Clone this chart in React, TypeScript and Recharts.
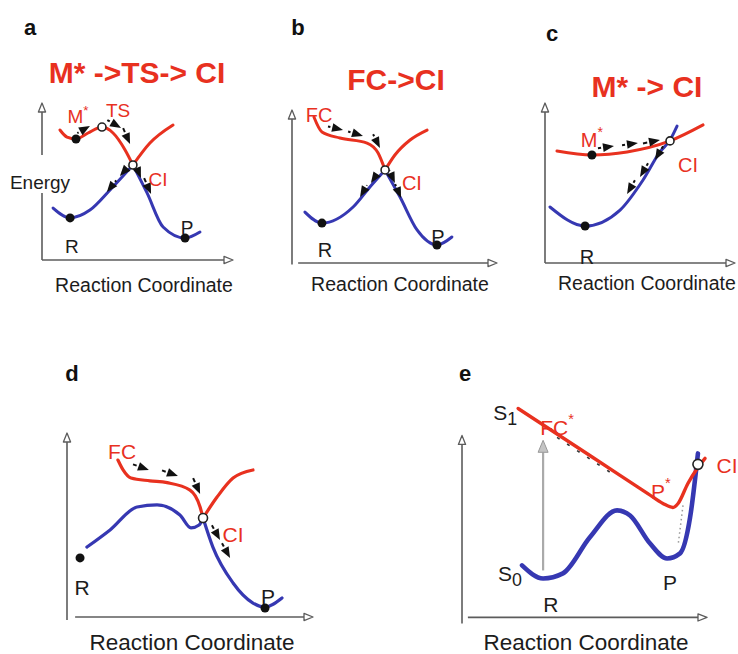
import React from "react";
import { LineChart, Line, XAxis, YAxis, ReferenceLine, ReferenceDot } from "recharts";

// units: reaction coordinate 0..10 along each x axis, energy 0..10 along each y axis
type Pt = [number, number];
type Seg = [number, number, number, number];
type Lbl = { x: number; y: number; text: string; sup?: string; sub?: string };

// ---- panel a : M* -> TS -> CI
const aRed: Pt[][] = [
  [[0.94, 8.28], [1.31, 7.83], [1.78, 7.71], [2.41, 8.09], [3.14, 8.47], [3.72, 8.09], [4.35, 7.01], [4.76, 6.05]],
  [[4.76, 6.05], [5.65, 7.45], [6.86, 8.6]],
];
const aBlue: Pt[][] = [
  [[0.58, 3.31], [1.47, 2.68], [2.51, 3.18], [3.56, 4.46], [4.24, 5.35], [4.76, 6.05]],
  [[4.76, 6.05], [5.5, 4.27], [6.34, 2.1], [7.49, 1.4], [8.27, 1.78]],
];
const aDots: Pt[] = [[1.78, 7.71], [1.47, 2.68], [7.49, 1.4]];
const aOpen: Pt[] = [[3.14, 8.47], [4.76, 6.05]];
const aRedLabels: Lbl[] = [
  { x: 1.88, y: 9.11, text: "M", sup: "*" },
  { x: 3.98, y: 9.55, text: "TS" },
  { x: 6.07, y: 5.1, text: "CI" },
];
const aInkLabels: Lbl[] = [{ x: 1.57, y: 0.83, text: "R" }, { x: 7.59, y: 2.04, text: "P" }];
const aArrows: Seg[] = [
  [1.94, 8.15, 2.51, 8.54], [3.51, 8.85, 4.14, 8.41], [4.29, 8.28, 4.61, 7.39],
  [4.45, 5.86, 4.08, 5.35], [3.82, 4.97, 3.4, 4.33], [4.92, 5.99, 5.18, 5.22], [5.39, 5.1, 5.71, 4.2],
];
const aAxisPlain: Seg[] = [[0, 0, 0, 4.27]];
const aAxisArrow: Seg[] = [[0, 0, 10, 0], [0, 6.69, 0, 10]];

// ---- panel b : FC -> CI
const bRed: Pt[][] = [
  [[1.07, 9.54], [1.46, 8.56], [2.34, 8.17], [3.66, 7.84], [4.2, 7.19], [4.54, 6.08]],
  [[4.54, 6.08], [5.02, 7.06], [5.76, 8.04], [6.59, 8.69]],
];
const bBlue: Pt[][] = [
  [[0.63, 3.33], [1.46, 2.61], [2.98, 3.66], [3.8, 4.97], [4.54, 6.08]],
  [[4.54, 6.08], [5.27, 4.31], [6.1, 2.16], [7.07, 1.18], [7.8, 1.7]],
];
const bDots: Pt[] = [[1.46, 2.61], [7.07, 1.18]];
const bOpen: Pt[] = [[4.54, 6.08]];
const bRedLabels: Lbl[] = [{ x: 1.32, y: 9.67, text: "FC" }, { x: 5.85, y: 5.23, text: "CI" }];
const bInkLabels: Lbl[] = [{ x: 1.61, y: 0.85, text: "R" }, { x: 7.12, y: 1.7, text: "P" }];
const bArrows: Seg[] = [
  [1.85, 8.89, 2.49, 8.69], [2.83, 8.56, 3.46, 8.3], [4.0, 8.3, 4.29, 7.52],
  [4.15, 5.82, 3.85, 5.23], [3.61, 4.97, 3.32, 4.31], [4.78, 5.95, 5.02, 5.23], [5.07, 5.03, 5.32, 4.25],
];
const bAxisPlain: Seg[] = [];
const bAxisArrow: Seg[] = [[0.3, 0, 10, 0], [0, -0.1, 0, 10]];

// ---- panel c : M* -> CI
const cRed: Pt[][] = [[[0.63, 7.0], [2.47, 6.75], [4.32, 6.94], [6.58, 7.63], [8.32, 8.63]]];
const cBlue: Pt[][] = [[[0.26, 3.5], [2.11, 2.31], [3.95, 3.31], [5.16, 5.19], [6.05, 6.94], [6.58, 7.69], [6.95, 8.56]]];
const cDots: Pt[] = [[2.47, 6.75], [2.11, 2.31]];
const cOpen: Pt[] = [[6.58, 7.63]];
const cRedLabels: Lbl[] = [{ x: 2.47, y: 7.69, text: "M", sup: "*" }, { x: 7.53, y: 6.13, text: "CI" }];
const cInkLabels: Lbl[] = [{ x: 2.21, y: 0.38, text: "R" }];
const cArrows: Seg[] = [
  [2.89, 7.19, 3.63, 7.31], [4.16, 7.38, 4.89, 7.5], [5.26, 7.5, 6.05, 7.69],
  [6.16, 7.19, 5.79, 6.44], [5.37, 6.13, 5.0, 5.38], [4.68, 5.06, 4.32, 4.31],
];
const cAxisPlain: Seg[] = [];
const cAxisArrow: Seg[] = [[0, 0, 10, 0], [0, 0, 0, 10]];

// ---- panel d
const dRed: Pt[][] = [
  [[2.07, 8.53], [2.28, 7.99], [2.6, 7.55], [3.37, 7.4], [4.07, 7.3], [5.0, 6.9], [5.41, 5.98], [5.53, 5.38]],
  [[5.53, 5.38], [6.1, 6.52], [6.75, 7.55], [7.56, 7.99]],
];
const dBlue: Pt[][] = [
  [[0.81, 3.8], [1.75, 4.73], [2.85, 5.98], [3.66, 6.09], [4.59, 5.54], [5.04, 4.84], [5.37, 5.0], [5.53, 5.38]],
  [[5.53, 5.38], [5.93, 3.8], [6.75, 1.85], [7.56, 0.76], [8.05, 0.54], [8.74, 1.03]],
];
const dDots: Pt[] = [[0.53, 3.21], [8.05, 0.49]];
const dOpen: Pt[] = [[5.53, 5.38]];
const dRedLabels: Lbl[] = [{ x: 2.24, y: 8.97, text: "FC" }, { x: 6.75, y: 4.46, text: "CI" }];
const dInkLabels: Lbl[] = [{ x: 0.61, y: 1.63, text: "R" }, { x: 8.17, y: 1.09, text: "P" }];
const dArrows: Seg[] = [
  [2.76, 8.26, 3.33, 7.99], [3.94, 7.93, 4.51, 7.66], [5.16, 7.45, 5.41, 6.68],
  [5.93, 4.89, 6.22, 4.18], [6.34, 3.91, 6.63, 3.21],
];
const dAxisPlain: Seg[] = [];
const dAxisArrow: Seg[] = [[0.33, 0, 10, 0], [0, -0.16, 0, 10]];

// ---- panel e : S0 / S1
const eRed: Pt[][] = [[[2.29, 11.48], [5.25, 8.87], [7.6, 6.79], [8.2, 6.26], [8.61, 6.04], [8.82, 6.26], [9.22, 7.36], [9.63, 8.24], [9.92, 8.74]]];
const eBlue: Pt[][] = [[[2.45, 2.86], [3.31, 2.14], [4.12, 2.42], [5.22, 4.4], [6.33, 5.88], [6.86, 5.6], [7.67, 4.07], [8.37, 3.24], [8.9, 3.52], [9.31, 5.49], [9.63, 9.01]]];
const eDots: Pt[] = [];
const eOpen: Pt[] = [[9.63, 8.41]];
const eRedLabels: Lbl[] = [
  { x: 3.88, y: 10.44, text: "FC", sup: "*" },
  { x: 8.12, y: 6.92, text: "P", sup: "*" },
  { x: 10.82, y: 8.35, text: "CI" },
];
const eInkLabels: Lbl[] = [
  { x: 1.76, y: 11.26, text: "S", sub: "1" },
  { x: 1.96, y: 2.42, text: "S", sub: "0" },
  { x: 8.49, y: 1.92, text: "P" },
  { x: 3.63, y: 0.71, text: "R" },
];
const eArrows: Seg[] = [];
const eExcite: Seg = [3.31, 2.58, 3.31, 9.73];
const eDotted: Seg = [9.02, 6.15, 8.82, 3.96];
const eTrail: Seg = [3.88, 9.89, 6.24, 7.8];
const eAxisPlain: Seg[] = [];
const eAxisArrow: Seg[] = [[0.24, 0, 10, 0], [0, -0.33, 0, 10]];

const TITLES = ["M* ->TS-> CI", "FC->CI", "M* -> CI"];
const LETTERS = ["a", "b", "c", "d", "e"];
const X_TITLE = "Reaction Coordinate";
const Y_TITLE = "Energy";

const RED = "#e8311f";
const BLUE = "#3638b2";
const INK = "#1c1c1c";
const AXIS = "#5c5c5c";
const FONT = "'Liberation Sans', Arial, Helvetica, sans-serif";
const ML = 40, MT = 26, MR = 10, MB = 12;

const unit = (x1: number, y1: number, x2: number, y2: number) => {
  const dx = x2 - x1, dy = y2 - y1;
  const len = Math.hypot(dx, dy) || 1;
  return { ux: dx / len, uy: dy / len, len };
};

const AxisArrow = (p: any) => {
  const { x1, y1, x2, y2 } = p;
  const { ux, uy } = unit(x1, y1, x2, y2);
  const hl = 9, hw = 3.6;
  const bx = x2 - ux * hl, by = y2 - uy * hl;
  return (
    <g>
      <line x1={x1} y1={y1} x2={bx} y2={by} stroke={AXIS} strokeWidth={1.6} />
      <polygon points={`${x2},${y2} ${bx - uy * hw},${by + ux * hw} ${bx + uy * hw},${by - ux * hw}`} fill="#fff" stroke={AXIS} strokeWidth={1.3} strokeLinejoin="round" />
    </g>
  );
};

const GrayArrow = (p: any) => {
  const { x1, y1, x2, y2 } = p;
  const { ux, uy } = unit(x1, y1, x2, y2);
  const hl = 12, hw = 5;
  const bx = x2 - ux * hl, by = y2 - uy * hl;
  return (
    <g>
      <line x1={x1} y1={y1} x2={bx} y2={by} stroke="#aaa" strokeWidth={2.2} />
      <polygon points={`${x2},${y2} ${bx - uy * hw},${by + ux * hw} ${bx + uy * hw},${by - ux * hw}`} fill="#c4c4c4" stroke="#999" strokeWidth={1} />
    </g>
  );
};

const DashArrow = (p: any) => {
  const { x1, y1, x2, y2 } = p;
  const { ux, uy, len } = unit(x1, y1, x2, y2);
  const hl = 11, hw = 4.4;
  const bx = x2 - ux * hl, by = y2 - uy * hl;
  const tail = Math.min(len + 2, hl + 9);
  return (
    <g>
      <line x1={x2 - ux * tail} y1={y2 - uy * tail} x2={x2 - ux * (hl + 2)} y2={y2 - uy * (hl + 2)} stroke="#111" strokeWidth={2} />
      <polygon points={`${x2},${y2} ${bx - uy * hw},${by + ux * hw} ${bx + uy * hw},${by - ux * hw}`} fill="#111" />
    </g>
  );
};

const labelShape = (l: Lbl, color: string, size: number) => (p: any) => (
  <text x={p.cx} y={p.cy} textAnchor="middle" dominantBaseline="central" fill={color} fontSize={size} fontFamily={FONT}>
    {l.text}
    {l.sup ? <tspan fontSize={size * 0.7} dy={-size * 0.38}>{l.sup}</tspan> : null}
    {l.sub ? <tspan fontSize={size * 0.85} dy={size * 0.3}>{l.sub}</tspan> : null}
  </text>
);

type Layout = { ox: number; oy: number; lx: number; ly: number; xMax: number; yMax: number };
type Spec = {
  layout: Layout;
  red: Pt[][]; blue: Pt[][]; dots: Pt[]; open: Pt[];
  redLabels: Lbl[]; inkLabels: Lbl[]; arrows: Seg[];
  axisPlain: Seg[]; axisArrow: Seg[];
  labelSize: number; lineWidth: number; blueWidth: number; openR: number;
  extras?: (key: string) => React.ReactNode[];
};

const seg = (s: Seg) => [{ x: s[0], y: s[1] }, { x: s[2], y: s[3] }] as any;
const toXY = (pts: Pt[]) => pts.map(([x, y]) => ({ x, y }));

function Panel({ spec }: { spec: Spec }) {
  const { ox, oy, lx, ly, xMax, yMax } = spec.layout;
  const pw = (lx * xMax) / 10, ph = (ly * yMax) / 10;
  const w = ML + pw + MR, h = MT + ph + MB;
  return (
    <div style={{ position: "absolute", left: ox - ML, top: oy - ph - MT, width: w, height: h }}>
      <LineChart width={w} height={h} margin={{ top: MT, right: MR, bottom: MB, left: ML }}>
        <XAxis type="number" dataKey="x" domain={[0, xMax]} hide />
        <YAxis type="number" dataKey="y" domain={[0, yMax]} hide />
        {spec.axisPlain.map((s, i) => (
          <ReferenceLine key={`ap${i}`} segment={seg(s)} stroke={AXIS} strokeWidth={1.6} ifOverflow="visible" />
        ))}
        {spec.axisArrow.map((s, i) => (
          <ReferenceLine key={`aa${i}`} segment={seg(s)} ifOverflow="visible" shape={(p: any) => <AxisArrow {...p} />} />
        ))}
        {spec.extras ? spec.extras("x") : null}
        {spec.blue.map((s, i) => (
          <Line key={`b${i}`} data={toXY(s)} dataKey="y" type="monotone" stroke={BLUE} strokeWidth={spec.blueWidth} strokeLinecap="round" dot={false} activeDot={false} isAnimationActive={false} />
        ))}
        {spec.red.map((s, i) => (
          <Line key={`r${i}`} data={toXY(s)} dataKey="y" type="monotone" stroke={RED} strokeWidth={spec.lineWidth} strokeLinecap="round" dot={false} activeDot={false} isAnimationActive={false} />
        ))}
        {spec.arrows.map((s, i) => (
          <ReferenceLine key={`ar${i}`} segment={seg(s)} ifOverflow="visible" shape={(p: any) => <DashArrow {...p} />} />
        ))}
        {spec.dots.map(([x, y], i) => (
          <ReferenceDot key={`d${i}`} x={x} y={y} r={4.5} fill="#111" stroke="none" ifOverflow="visible" />
        ))}
        {spec.open.map(([x, y], i) => (
          <ReferenceDot key={`o${i}`} x={x} y={y} r={spec.openR} fill="#fff" stroke="#222" strokeWidth={1.6} ifOverflow="visible" />
        ))}
        {spec.redLabels.map((l, i) => (
          <ReferenceDot key={`rl${i}`} x={l.x} y={l.y} r={0} ifOverflow="visible" shape={labelShape(l, RED, spec.labelSize)} />
        ))}
        {spec.inkLabels.map((l, i) => (
          <ReferenceDot key={`il${i}`} x={l.x} y={l.y} r={0} ifOverflow="visible" shape={labelShape(l, INK, spec.labelSize)} />
        ))}
      </LineChart>
    </div>
  );
}

const SPECS: Spec[] = [
  { layout: { ox: 42, oy: 260, lx: 191, ly: 157, xMax: 10, yMax: 10 }, red: aRed, blue: aBlue, dots: aDots, open: aOpen, redLabels: aRedLabels, inkLabels: aInkLabels, arrows: aArrows, axisPlain: aAxisPlain, axisArrow: aAxisArrow, labelSize: 19, lineWidth: 3, blueWidth: 3, openR: 4 },
  { layout: { ox: 292, oy: 263, lx: 205, ly: 153, xMax: 10, yMax: 10 }, red: bRed, blue: bBlue, dots: bDots, open: bOpen, redLabels: bRedLabels, inkLabels: bInkLabels, arrows: bArrows, axisPlain: bAxisPlain, axisArrow: bAxisArrow, labelSize: 20, lineWidth: 3, blueWidth: 3, openR: 4 },
  { layout: { ox: 545, oy: 263, lx: 190, ly: 160, xMax: 10, yMax: 10 }, red: cRed, blue: cBlue, dots: cDots, open: cOpen, redLabels: cRedLabels, inkLabels: cInkLabels, arrows: cArrows, axisPlain: cAxisPlain, axisArrow: cAxisArrow, labelSize: 20, lineWidth: 3, blueWidth: 3, openR: 4 },
  { layout: { ox: 67, oy: 617, lx: 246, ly: 184, xMax: 10, yMax: 10 }, red: dRed, blue: dBlue, dots: dDots, open: dOpen, redLabels: dRedLabels, inkLabels: dInkLabels, arrows: dArrows, axisPlain: dAxisPlain, axisArrow: dAxisArrow, labelSize: 21, lineWidth: 3.2, blueWidth: 3.2, openR: 4.5 },
  {
    layout: { ox: 462, oy: 617, lx: 245, ly: 182, xMax: 11, yMax: 12 }, red: eRed, blue: eBlue, dots: eDots, open: eOpen, redLabels: eRedLabels, inkLabels: eInkLabels, arrows: eArrows, axisPlain: eAxisPlain, axisArrow: eAxisArrow, labelSize: 21, lineWidth: 3.4, blueWidth: 4.6, openR: 5,
    extras: (k) => [
      <ReferenceLine key={`${k}ex`} segment={seg(eExcite)} ifOverflow="visible" shape={(p: any) => <GrayArrow {...p} />} />,
      <ReferenceLine key={`${k}dt`} segment={seg(eDotted)} stroke="#999" strokeWidth={1.5} strokeDasharray="1.5 3" ifOverflow="visible" />,
      <ReferenceLine key={`${k}tr`} segment={seg(eTrail)} stroke="#333" strokeWidth={1.6} strokeDasharray="3 9" ifOverflow="visible" />,
    ],
  },
];

export default function App() {
  const txt = { fontFamily: FONT } as const;
  return (
    <div style={{ position: "relative", width: 738, height: 654, overflow: "hidden", background: "#fff" }}>
      <style>{"body{margin:0;background:#fff}"}</style>
      {SPECS.map((s, i) => (
        <Panel key={i} spec={s} />
      ))}
      <svg width={738} height={654} style={{ position: "absolute", left: 0, top: 0, pointerEvents: "none" }}>
        <g fontWeight="bold" fontSize={22} fill="#111" style={txt}>
          <text x={30} y={27} textAnchor="middle" dominantBaseline="central">{LETTERS[0]}</text>
          <text x={298} y={27} textAnchor="middle" dominantBaseline="central">{LETTERS[1]}</text>
          <text x={552} y={33} textAnchor="middle" dominantBaseline="central">{LETTERS[2]}</text>
          <text x={72} y={373} textAnchor="middle" dominantBaseline="central">{LETTERS[3]}</text>
          <text x={465} y={373} textAnchor="middle" dominantBaseline="central">{LETTERS[4]}</text>
        </g>
        <g fontWeight="bold" fontSize={30} fill={RED} style={txt}>
          <text x={137} y={72} textAnchor="middle" dominantBaseline="central">{TITLES[0]}</text>
          <text x={396} y={79} textAnchor="middle" dominantBaseline="central">{TITLES[1]}</text>
          <text x={647} y={86} textAnchor="middle" dominantBaseline="central">{TITLES[2]}</text>
        </g>
        <g fill={INK} style={txt}>
          <text x={40} y={182} textAnchor="middle" dominantBaseline="central" fontSize={19}>{Y_TITLE}</text>
          <text x={144} y={285} textAnchor="middle" dominantBaseline="central" fontSize={19.5}>{X_TITLE}</text>
          <text x={400} y={284} textAnchor="middle" dominantBaseline="central" fontSize={19.5}>{X_TITLE}</text>
          <text x={558} y={283} textAnchor="start" dominantBaseline="central" fontSize={19.5}>{X_TITLE}</text>
          <text x={192} y={642} textAnchor="middle" dominantBaseline="central" fontSize={22.5}>{X_TITLE}</text>
          <text x={586} y={642} textAnchor="middle" dominantBaseline="central" fontSize={22.5}>{X_TITLE}</text>
        </g>
      </svg>
    </div>
  );
}
